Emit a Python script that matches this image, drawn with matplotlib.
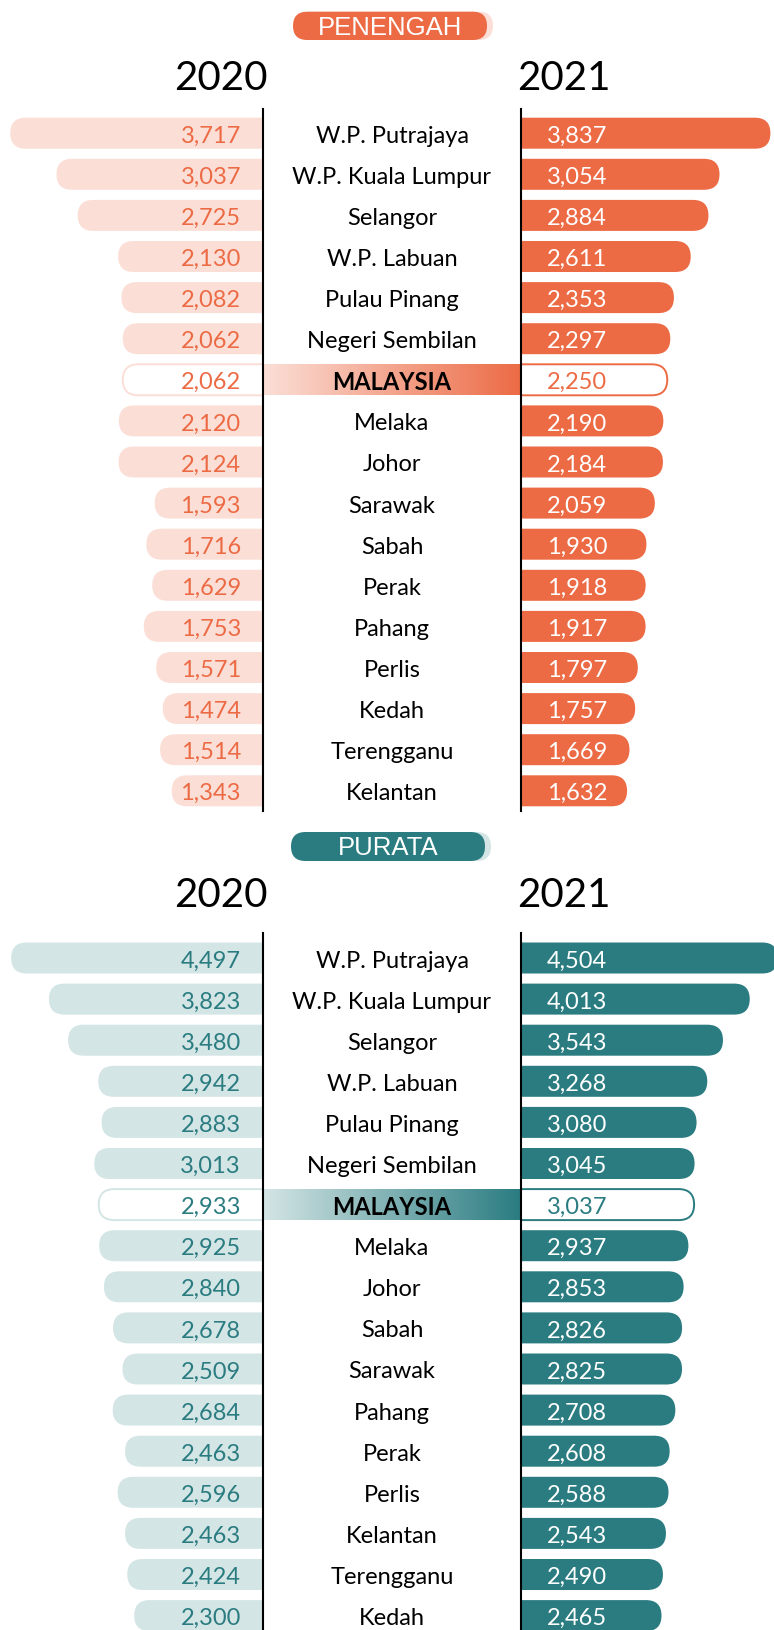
import numpy as np
import matplotlib
matplotlib.use("Agg")
import matplotlib.pyplot as plt
from matplotlib.patches import FancyBboxPatch
from matplotlib.colors import LinearSegmentedColormap

plt.rcParams['font.family'] = ["Lato", "DejaVu Sans"]

# ---- data ----
states_pen = ["W.P. Putrajaya", "W.P. Kuala Lumpur", "Selangor", "W.P. Labuan",
              "Pulau Pinang", "Negeri Sembilan", "MALAYSIA", "Melaka", "Johor",
              "Sarawak", "Sabah", "Perak", "Pahang", "Perlis", "Kedah",
              "Terengganu", "Kelantan"]
pen_2020 = [3717, 3037, 2725, 2130, 2082, 2062, 2062, 2120, 2124, 1593, 1716,
            1629, 1753, 1571, 1474, 1514, 1343]
pen_2021 = [3837, 3054, 2884, 2611, 2353, 2297, 2250, 2190, 2184, 2059, 1930,
            1918, 1917, 1797, 1757, 1669, 1632]

states_pur = ["W.P. Putrajaya", "W.P. Kuala Lumpur", "Selangor", "W.P. Labuan",
              "Pulau Pinang", "Negeri Sembilan", "MALAYSIA", "Melaka", "Johor",
              "Sabah", "Sarawak", "Pahang", "Perak", "Perlis", "Kelantan",
              "Terengganu", "Kedah"]
pur_2020 = [4497, 3823, 3480, 2942, 2883, 3013, 2933, 2925, 2840, 2678, 2509,
            2684, 2463, 2596, 2463, 2424, 2300]
pur_2021 = [4504, 4013, 3543, 3268, 3080, 3045, 3037, 2937, 2853, 2826, 2825,
            2708, 2608, 2588, 2543, 2490, 2465]

years = ["2020", "2021"]

ORANGE = "#EC6B45"
PINK = "#FBDFD7"
TEAL = "#2A7C81"
LTEAL = "#D4E5E5"

W, H = 774, 1631
LINE_L, LINE_R = 263, 521
PITCH = 41.1
BAR_H = 31.0

fig = plt.figure(figsize=(W / 100, H / 100), dpi=100)

overlay = fig.add_axes([0, 0, 1, 1])
overlay.set_xlim(0, W)
overlay.set_ylim(H, 0)
overlay.axis("off")


def pill(x0, x1, y0, y1, color, shadow, label):
    h = y1 - y0
    sh = FancyBboxPatch((x0 + 6, y0), x1 - x0, h,
                        boxstyle="round,pad=0,rounding_size=%f" % (h / 2),
                        fc=shadow, ec="none", zorder=1)
    p = FancyBboxPatch((x0, y0), x1 - x0, h,
                       boxstyle="round,pad=0,rounding_size=%f" % (h / 2),
                       fc=color, ec="none", zorder=2)
    overlay.add_patch(sh)
    overlay.add_patch(p)
    overlay.text((x0 + x1) / 2, (y0 + y1) / 2 + 1, label, color="white",
                 fontsize=18.5, family="Liberation Sans",
                 ha="center", va="center", zorder=3)


def panel(row0, states, v20, v21, sL, sR, dark, light, title, pill_box, year_y):
    n = len(states)
    top_px = row0 - 0.6 * PITCH
    bot_px = row0 + (n - 0.5) * PITCH
    b = 1 - bot_px / H
    h = (bot_px - top_px) / H
    ylim = (n - 0.5, -0.6)
    hh = BAR_H / PITCH

    axL = fig.add_axes([0, b, LINE_L / W, h])
    axR = fig.add_axes([LINE_R / W, b, (W - LINE_R) / W, h])
    axM = fig.add_axes([LINE_L / W, b, (LINE_R - LINE_L) / W, h])
    axL.set_xlim(LINE_L / sL, 0)
    axR.set_xlim(0, (W - LINE_R) / sR)
    for ax in (axL, axR, axM):
        ax.set_ylim(*ylim)
        ax.axis("off")

    cmap = LinearSegmentedColormap.from_list("g", [light, dark])

    for i in range(n):
        is_total = states[i] == "MALAYSIA"
        for ax, v, s, fc in ((axL, v20[i], sL, light), (axR, v21[i], sR, dark)):
            r = (BAR_H / 2) / s
            ext = 30 / s
            if is_total:
                patch = FancyBboxPatch((-ext, i - hh / 2), v + ext, hh,
                                       boxstyle="round,pad=0,rounding_size=%f" % r,
                                       mutation_aspect=s / PITCH,
                                       fc="white", ec=fc, lw=1.4)
            else:
                patch = FancyBboxPatch((-ext, i - hh / 2), v + ext, hh,
                                       boxstyle="round,pad=0,rounding_size=%f" % r,
                                       mutation_aspect=s / PITCH,
                                       fc=fc, ec="none")
            ax.add_patch(patch)
        axL.text(22 / sL, i, f"{v20[i]:,}", color=dark, fontsize=17,
                 ha="right", va="center_baseline")
        axR.text(26 / sR, i, f"{v21[i]:,}", color=dark if is_total else "white",
                 fontsize=17, ha="left", va="center_baseline")
        if is_total:
            axM.imshow(np.linspace(0, 1, 256).reshape(1, -1), cmap=cmap,
                       extent=[0, 1, i + hh / 2, i - hh / 2], aspect="auto",
                       interpolation="bilinear", zorder=1)
            axM.text(0.5, i, states[i], fontsize=17, weight="bold",
                     ha="center", va="center_baseline", zorder=3)
        else:
            axM.text(0.5, i, states[i], fontsize=17, ha="center",
                     va="center_baseline", zorder=3)
    axM.set_xlim(0, 1)
    axM.set_ylim(*ylim)
    axM.axvline(0, color="black", lw=1.5, clip_on=False, zorder=4)
    axM.axvline(1, color="black", lw=1.5, clip_on=False, zorder=4)

    pill(*pill_box, dark, light, title)
    overlay.text(221, year_y, years[0], fontsize=29, ha="center", va="center")
    overlay.text(564, year_y, years[1], fontsize=29, ha="center", va="center")


panel(134.2, states_pen, pen_2020, pen_2021, 0.068, 0.065, ORANGE, PINK,
      "PENENGAH", (293, 487, 12.7, 41), 79)
panel(959.0, states_pur, pur_2020, pur_2021, 0.056, 0.057, TEAL, LTEAL,
      "PURATA", (291, 485, 833, 862), 896)

fig.savefig("out.png", dpi=100)
